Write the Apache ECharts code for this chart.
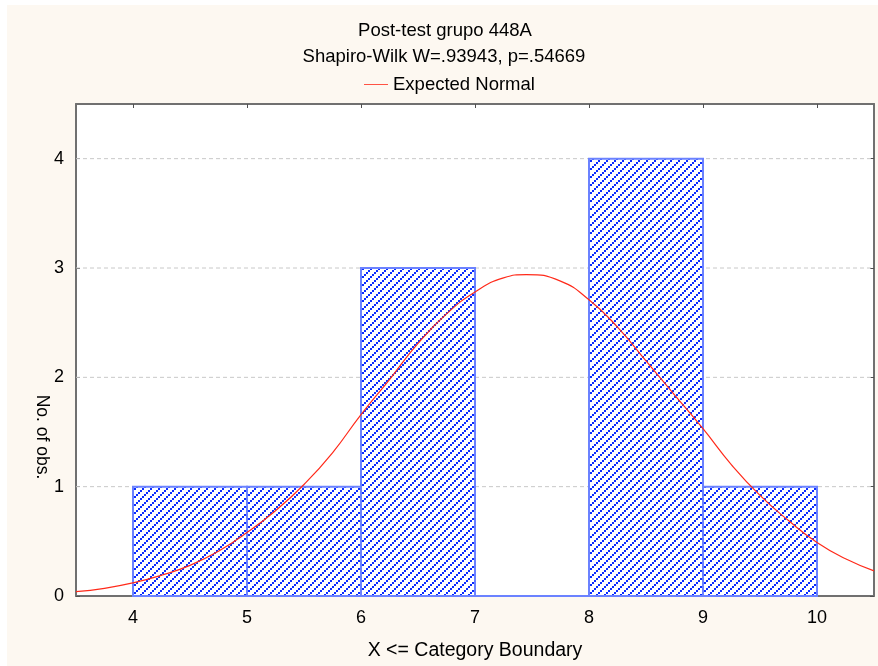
<!DOCTYPE html>
<html>
<head>
<meta charset="utf-8">
<script src="https://cdn.jsdelivr.net/npm/echarts@6/dist/echarts.min.js"></script>
<style>
  html, body { margin: 0; padding: 0; background: #ffffff; }
  #chart { width: 878px; height: 666px; }
</style>
</head>
<body>
<div id="chart"></div>
<script>
// Histogram bins (upper boundary inclusive) and observed counts
const binStarts = [4, 5, 6, 7, 8, 9];
const binEnds = [5, 6, 7, 8, 9, 10];
const counts = [1, 1, 3, 0, 4, 1];

// Expected normal curve, sampled along the x range
const curveX = [3.5, 3.75, 4, 4.25, 4.5, 4.75, 5, 5.25, 5.5, 5.75, 6, 6.25, 6.5, 6.75, 7, 7.25, 7.45, 7.75, 8, 8.25, 8.5, 8.75, 9, 9.25, 9.5, 9.75, 10, 10.25, 10.5];
const curveY = [0.04, 0.07, 0.12, 0.19, 0.28, 0.41, 0.58, 0.78, 1.02, 1.31, 1.66, 1.98, 2.31, 2.58, 2.78, 2.91, 2.94, 2.88, 2.71, 2.46, 2.15, 1.84, 1.53, 1.2, 0.92, 0.69, 0.49, 0.34, 0.23];

// Tick labels
const xTicks = [4, 5, 6, 7, 8, 9, 10];
const yTicks = [0, 1, 2, 3, 4];

const titleText = 'Post-test grupo 448A';
const subText = 'Shapiro-Wilk W=.93943, p=.54669';
const legendName = 'Expected Normal';

// Diagonal hatch tile for the bars: 2x2 squares stepping up-right
function makeHatch() {
  const c = document.createElement('canvas');
  c.width = 8; c.height = 8;
  const ctx = c.getContext('2d');
  ctx.fillStyle = '#ffffff';
  ctx.fillRect(0, 0, 8, 8);
  ctx.fillStyle = '#0a2cff';
  for (let i = 0; i < 4; i++) {
    ctx.fillRect(i * 2, 6 - i * 2, 2, 2);
  }
  return c;
}
const hatch = makeHatch();

const histData = binStarts.map((s, i) => [s, binEnds[i], counts[i]]);
const curveData = curveX.map((x, i) => [x, curveY[i]]);

const FONT = 'Liberation Sans, Arial, sans-serif';

const chart = echarts.init(document.getElementById('chart'), null, { renderer: 'canvas' });

chart.setOption({
  backgroundColor: '#ffffff',
  animation: false,
  textStyle: { fontFamily: FONT },
  graphic: [
    { type: 'rect', z: -10, silent: true, shape: { x: 7, y: 5, width: 871, height: 661 }, style: { fill: '#fdf8f1' } },
    { type: 'text', x: 445, y: 31, style: { text: titleText, font: '18.5px ' + FONT, fill: '#000', align: 'center', verticalAlign: 'middle' } },
    { type: 'text', x: 444, y: 57, style: { text: subText, font: '18.5px ' + FONT, fill: '#000', align: 'center', verticalAlign: 'middle' } },
    { type: 'text', x: 42, y: 437, rotation: -Math.PI / 2, style: { text: 'No. of obs.', font: '17.5px ' + FONT, fill: '#000', align: 'center', verticalAlign: 'middle' } }
  ],
  legend: {
    top: 70,
    left: 359,
    data: [{ name: legendName, icon: 'path://M0,0 L30,0 L30,1 L0,1 Z' }],
    itemWidth: 24,
    itemHeight: 1,
    itemGap: 8,
    textStyle: { fontSize: 18.5, color: '#000', fontFamily: FONT }
  },
  grid: { left: 76, right: 4, top: 104, bottom: 70, containLabel: false, outerBoundsMode: 'none', show: true, backgroundColor: '#ffffff', borderWidth: 0 },
  xAxis: [
    {
      type: 'value', min: 3.5, max: 10.5,
      name: 'X <= Category Boundary', nameLocation: 'middle', nameGap: 45,
      nameTextStyle: { fontSize: 19.5, color: '#000', fontFamily: FONT },
      axisLine: { show: true, lineStyle: { color: '#707070', width: 2 } },
      axisTick: { show: true, inside: true, length: 4, customValues: xTicks, lineStyle: { color: '#505050' } },
      axisLabel: { customValues: xTicks, fontSize: 18, color: '#000', margin: 13 },
      splitLine: { show: false }
    },
    {
      type: 'value', min: 3.5, max: 10.5, position: 'top',
      axisLine: { show: true, onZero: false, lineStyle: { color: '#707070', width: 2 } },
      axisTick: { show: true, inside: true, length: 4, customValues: xTicks, lineStyle: { color: '#505050' } },
      axisLabel: { show: false },
      splitLine: { show: false }
    }
  ],
  yAxis: [
    {
      type: 'value', min: 0, max: 4.5,
      axisLine: { show: true, onZero: false, lineStyle: { color: '#707070', width: 2 } },
      axisTick: { show: true, inside: true, length: 4, customValues: yTicks, lineStyle: { color: '#505050' } },
      axisLabel: { customValues: yTicks, fontSize: 18, color: '#000', margin: 12 },
      splitLine: { show: false }
    },
    {
      type: 'value', min: 0, max: 4.5, position: 'right',
      axisLine: { show: true, onZero: false, lineStyle: { color: '#707070', width: 2 } },
      axisTick: { show: true, inside: true, length: 4, customValues: yTicks, lineStyle: { color: '#505050' } },
      axisLabel: { show: false },
      splitLine: { show: false }
    }
  ],
  series: [
    {
      // dashed horizontal gridlines at the labelled counts
      type: 'custom',
      silent: true,
      z: 1,
      data: yTicks.filter(v => v > 0).map(v => [v]),
      renderItem: function (params, api) {
        const y = api.coord([3.5, api.value(0)])[1];
        const x0 = api.coord([3.5, 0])[0];
        const x1 = api.coord([10.5, 0])[0];
        return { type: 'line', shape: { x1: x0, y1: y, x2: x1, y2: y }, style: { stroke: '#c8c8c8', lineWidth: 1, lineDash: [4, 3] } };
      }
    },
    {
      type: 'custom',
      z: 2,
      data: histData,
      renderItem: function (params, api) {
        const p0 = api.coord([api.value(0), 0]);
        const p1 = api.coord([api.value(1), api.value(2)]);
        return {
          type: 'rect',
          shape: { x: p0[0], y: p1[1], width: p1[0] - p0[0], height: p0[1] - p1[1] },
          style: { fill: { image: hatch, repeat: 'repeat' }, stroke: '#6b82ff', lineWidth: 2 }
        };
      }
    },
    {
      name: legendName,
      type: 'line',
      z: 3,
      data: curveData,
      smooth: true,
      showSymbol: false,
      symbol: 'none',
      lineStyle: { color: '#ff2a1a', width: 1.2 },
      itemStyle: { color: '#ff2a1a' }
    }
  ]
});
</script>
</body>
</html>
